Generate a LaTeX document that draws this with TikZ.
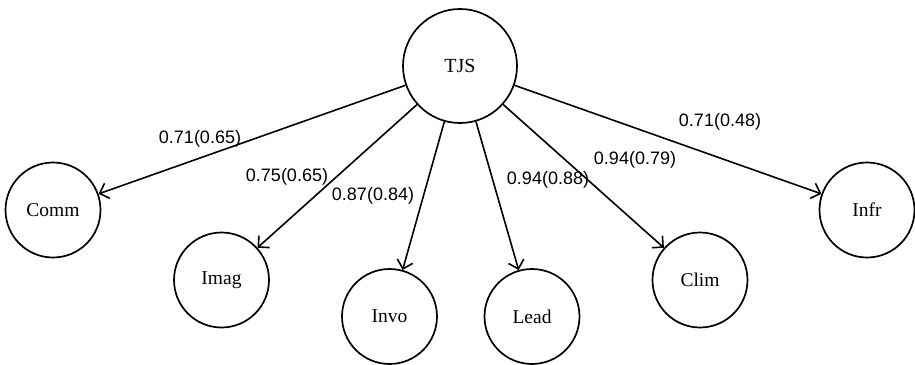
\documentclass[tikz,border=0pt]{standalone}
\usepackage{fontspec}
\setmainfont{Liberation Serif}
\newfontfamily\labelfont{Liberation Sans}
\usetikzlibrary{arrows.meta}
\begin{document}
\begin{tikzpicture}[x=1pt,y=-1pt,
  lv/.style={circle,draw,line width=1.7pt,minimum size=95pt,inner sep=0pt,font=\fontsize{19.5}{22}\selectfont},
  top/.style={lv,minimum size=114pt,font=\fontsize{20}{24}\selectfont},
  edge/.style={line width=1.6pt,-{Straight Barb[length=8pt,width=16pt,line width=1.6pt]}},
  lab/.style={font=\labelfont\fontsize{18}{21}\selectfont,inner sep=0pt}]
\useasboundingbox (0,0) rectangle (915,364);
\node[top] (tjs) at (460,66) {TJS};
\node[lv] (comm) at (53,210) {Comm};
\node[lv] (imag) at (221.5,280) {Imag};
\node[lv] (invo) at (389.5,316.5) {Invo};
\node[lv] (lead) at (532,316.5) {Lead};
\node[lv] (clim) at (700,280) {Clim};
\node[lv] (infr) at (867,210) {Infr};
\draw[edge] (tjs) -- (comm);
\draw[edge] (tjs) -- (imag);
\draw[edge] (tjs) -- (invo);
\draw[edge] (tjs) -- (lead);
\draw[edge] (tjs) -- (clim);
\draw[edge] (tjs) -- (infr);
\node[lab] (l1) at (200,139) {0.71(0.65)};
\node[lab] (l2) at (287,177) {0.75(0.65)};
\node[lab] (l3) at (373,196) {0.87(0.84)};
\node[lab] (l4) at (548,180) {0.94(0.88)};
\node[lab] (l5) at (635,160) {0.94(0.79)};
\node[lab] (l6) at (720,122) {0.71(0.48)};
\end{tikzpicture}
\end{document}
